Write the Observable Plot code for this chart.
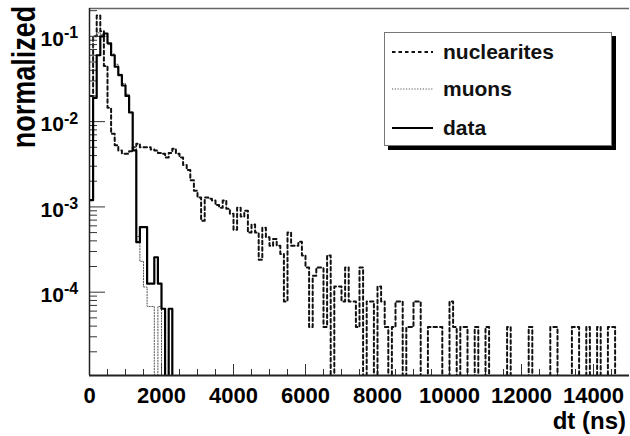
<!DOCTYPE html>
<html><head><meta charset="utf-8">
<script src="https://cdn.jsdelivr.net/npm/d3@7"></script>
<script src="https://cdn.jsdelivr.net/npm/@observablehq/plot@0.6"></script>
<style>
body{margin:0;background:#fff;}
#wrap{position:relative;width:630px;height:436px;font-family:"Liberation Sans",Arial,sans-serif;}
#legend{position:absolute;left:384px;top:32px;width:226px;height:112px;border:1px solid #777;background:#fff;box-shadow:4px 4px 0 #000;}
.item{position:absolute;left:7px;height:24px;display:flex;align-items:center;font-weight:bold;font-size:21px;color:#111;}
.item svg{margin-right:10px;}
</style></head><body><div id="wrap"></div>
<script>
// histogram binning: 150 bins of 100 ns from 0 to 15000 ns
const binWidth = 100;
const nBins = 150;

// nuclearites (dashed), bins 0..149
const nuclearites = [
0.02,0.10,0.175,0.115,0.045,0.0145,0.0072,0.0053,0.0046,0.0042,
0.0042,0.0045,0.005,0.0055,0.005,0.005,0.005,0.0047,0.0046,0.0043,
0.0042,0.0038,0.0043,0.0048,0.0042,0.0038,0.0031,0.0027,0.00205,0.00155,
0.00129,0.00069,0.00129,0.00125,0.00119,0.00105,0.00098,0.00119,0.00095,0.00083,
0.00054,0.00098,0.00077,0.0009,0.0005,0.00062,0.0005,0.00024,0.00057,0.00044,
0.00035,0.00042,0.00035,0.00028,0.000078,0.0005,0.00035,0.00035,0.00039,0.00027,
0.000195,0.000039,0.000156,0.000195,0.000195,0.000039,0.00027,0,0.000117,0.000117,
0.000078,0.000195,0.000078,0.000078,0.000039,0.000195,0,0.000078,0.000078,0,
0.000117,0.000078,0.000039,0,0.000039,0.000078,0.000078,0,0.000039,0.000039,
0.000078,0.000078,0,0,0.000039,0.000039,0.000039,0.000039,0,0,
0.000078,0.000039,0,0.000039,0.000039,0,0,0.000039,0,0,
0.000039,0,0,0,0,0,0.000039,0,0,0,
0,0,0.000039,0,0,0,0,0,0.000039,0.000039,
0,0,0,0,0.000039,0.000039,0,0,0.000039,0,
0,0.000039,0,0,0.000039,0.000039,0,0,0,0
];
// muons (dotted), bins 0..20, later bins empty
const muons = [
0.07,0.10,0.11,0.105,0.10,0.08,0.062,0.047,0.036,0.028,
0.021,0.013,0.005,0.00045,0.00023,0.000115,0.000068,0.000068,0,0.000068,0
];
// data (solid), bins 0..22, later bins empty
const dataVals = [
0.0012,0.019,0.06,0.10,0.108,0.083,0.06,0.044,0.035,0.0265,
0.02,0.0128,0.0046,0.000386,0.00058,0.00058,0.000126,0.000126,0.000257,0.000126,
0.000064,0,0.000064
];

const xTicks = [0,2000,4000,6000,8000,10000,12000,14000];
const xMinor = d3.range(500, 15000, 500).filter(d => d % 2000 !== 0);
const yDecades = [1e-4,1e-3,1e-2,1e-1];
const yMinor = [];
for (const dec of [1e-5,1e-4,1e-3,1e-2,1e-1]) for (let k=2;k<=9;k++) yMinor.push(k*dec);
const yMin = 1.055e-5, yMax = 0.212;
const yMinorIn = yMinor.filter(v => v > yMin && v < yMax);

const series = [
  {name:"nuclearites", values:nuclearites, dash:"3.5,3", width:2, color:"#111"},
  {name:"muons", values:muons, dash:"1.2,1.6", width:1, color:"#555"},
  {name:"data", values:dataVals, dash:null, width:2.2, color:"#000"}
];

function histRows(values){
  const rows = [];
  for (let i=0;i<nBins;i++){
    const v = i < values.length ? values[i] : 0;
    rows.push({x:i*binWidth, y: v > 0 ? v : 1e-8});
  }
  rows.push({x:nBins*binWidth, y: rows[rows.length-1].y});
  return rows;
}

const W = 630, H = 436, mL = 89, mR = 1, mT = 8, mB = 61;
const frameW = W - mL - mR, frameH = H - mT - mB;

const lineMarks = series.map(s => Plot.line(histRows(s.values), {
  x:"x", y:"y", curve:"step-after", stroke:s.color, strokeWidth:s.width,
  strokeDasharray: s.dash || undefined, clip:true
}));

const chart = Plot.plot({
  width:W, height:H, marginLeft:mL, marginRight:mR, marginTop:mT, marginBottom:mB,
  style:{fontFamily:"'Liberation Sans', Arial, sans-serif", background:"#fff", color:"#000"},
  x:{domain:[0,15000], label:null},
  y:{type:"log", domain:[yMin,yMax], axis:null},
  marks:[
    Plot.tickX(xMinor, {x:d=>d, insetTop:frameH-6, stroke:"#333"}),
    Plot.tickX(xTicks, {x:d=>d, insetTop:frameH-11, stroke:"#333"}),
    Plot.tickY(yMinorIn, {y:d=>d, insetRight:frameW-8, stroke:"#333"}),
    Plot.tickY(yDecades, {y:d=>d, insetRight:frameW-16, stroke:"#333"}),
    Plot.axisX(xTicks, {tickSize:0, tickPadding:12, fontSize:22, fontWeight:"bold", label:null, tickFormat:d=>String(d)}),
    Plot.text(yDecades, {y:d=>d, text:()=>"10", frameAnchor:"left", dx:-49, dy:3, textAnchor:"start", fontSize:21, fontWeight:"bold"}),
    Plot.text(yDecades, {y:d=>d, text:d=>String(Math.round(Math.log10(d))), frameAnchor:"left", dx:-25.5, dy:-3, textAnchor:"start", fontSize:16, fontWeight:"bold"}),
    ...lineMarks,
    Plot.ruleY([yMax], {stroke:"#666", strokeWidth:1.5}),
    Plot.ruleY([yMin], {stroke:"#222", strokeWidth:2}),
    Plot.ruleX([0], {stroke:"#222", strokeWidth:1.5})
  ]
});

const wrap = document.getElementById("wrap");
wrap.appendChild(chart);
const svg = d3.select(chart);
svg.append("text").text("normalized")
  .attr("transform","translate(35,77) rotate(-90) scale(1,1.25)")
  .attr("text-anchor","middle").attr("font-size",27).attr("font-weight","bold")
  .attr("fill","#000");
svg.append("text").text("dt (ns)")
  .attr("x",626).attr("y",429).attr("text-anchor","end")
  .attr("font-size",24).attr("font-weight","bold").attr("fill","#000");

// legend
const legend = document.createElement("div");
legend.id = "legend";
const tops = [7,44,83];
series.forEach((s,i) => {
  const item = document.createElement("div");
  item.className = "item";
  item.style.top = tops[i] + "px";
  const ns = "http://www.w3.org/2000/svg";
  const sv = document.createElementNS(ns,"svg");
  sv.setAttribute("width",41); sv.setAttribute("height",6);
  const ln = document.createElementNS(ns,"line");
  ln.setAttribute("x1",0); ln.setAttribute("x2",41); ln.setAttribute("y1",3); ln.setAttribute("y2",3);
  ln.setAttribute("stroke", s.color); ln.setAttribute("stroke-width", s.width);
  if (s.dash) ln.setAttribute("stroke-dasharray", s.dash);
  sv.appendChild(ln);
  item.appendChild(sv);
  const t = document.createElement("span");
  t.textContent = s.name;
  item.appendChild(t);
  legend.appendChild(item);
});
wrap.appendChild(legend);
</script></body></html>
